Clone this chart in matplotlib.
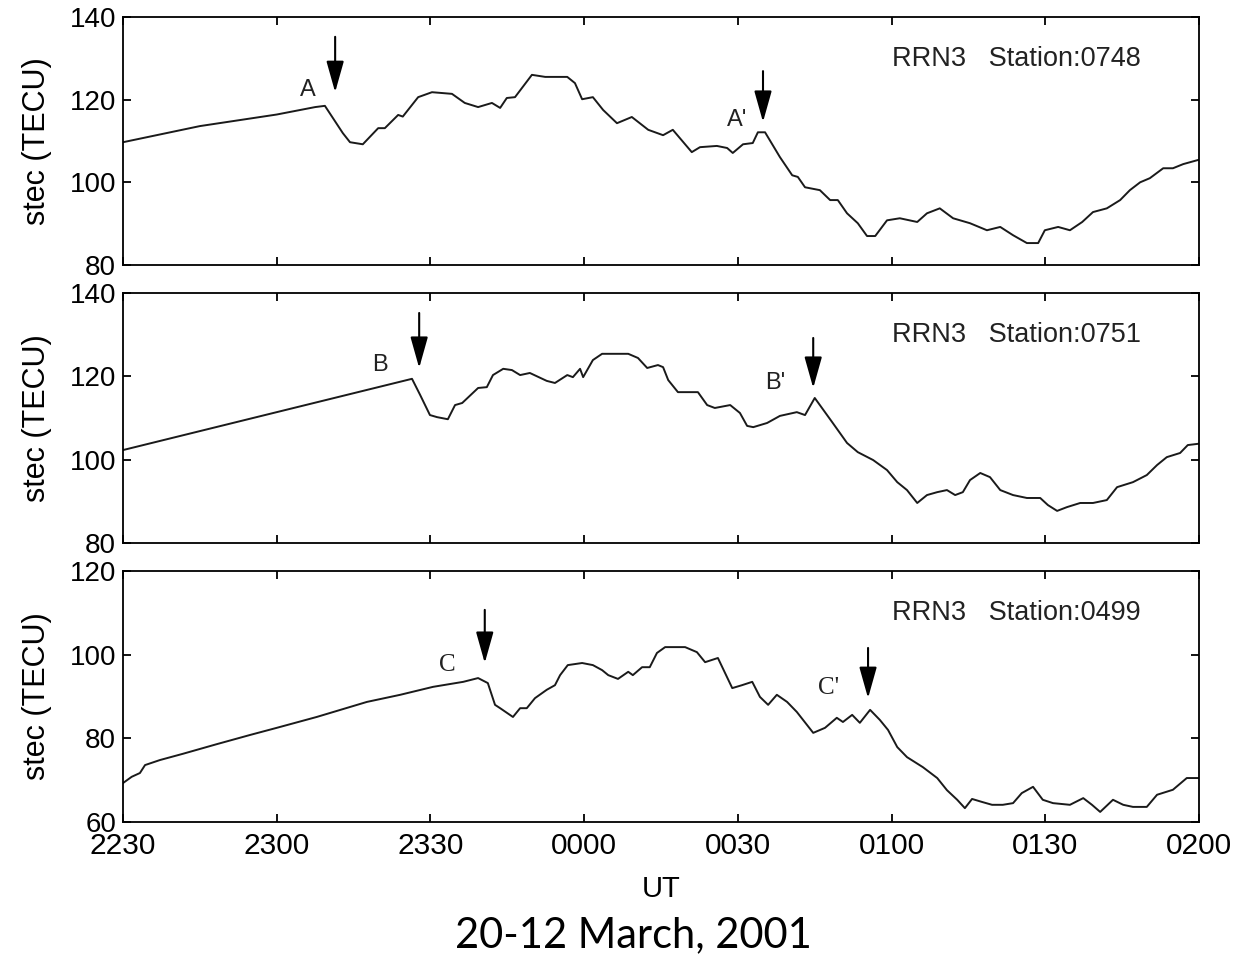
import matplotlib.pyplot as plt

plt.rcParams["font.family"] = ["Liberation Sans", "DejaVu Sans"]

# minutes after 22:30 UT
ut_ticks = [0, 30, 60, 90, 120, 150, 180, 210]
ut_labels = ["2230", "2300", "2330", "0000", "0030", "0100", "0130", "0200"]

t_0748 = [0, 15.0, 30.0, 37.5, 39.4, 42.9, 44.3, 46.8, 47.8, 49.8, 51.1, 53.7, 54.6,
          57.6, 60.3, 64.2, 66.7, 69.3, 72.0, 73.6, 74.9, 76.5, 79.8, 82.4, 86.7,
          88.2, 89.6, 91.7, 93.7, 96.4, 99.3, 102.5, 105.4, 107.3, 111.0, 112.6,
          115.9, 117.9, 119.0, 121.0, 122.9, 123.9, 125.3, 128.2, 130.6, 131.7,
          133.1, 136.0, 138.0, 139.5, 141.3, 143.4, 145.2, 146.8, 149.1, 151.6,
          155.0, 156.9, 159.4, 162.0, 165.3, 168.6, 171.2, 173.7, 176.4, 178.6,
          179.9, 182.5, 184.8, 187.2, 189.3, 192.0, 194.6, 196.5, 198.5, 200.4,
          203.0, 204.9, 206.9, 209.8]
stec_0748 = [109.7, 113.6, 116.4, 118.2, 118.5, 111.9, 109.7, 109.2, 110.5, 113.1,
             113.1, 116.3, 115.9, 120.6, 121.8, 121.4, 119.2, 118.2, 119.2, 118.0,
             120.4, 120.6, 126.0, 125.5, 125.5, 124.0, 120.1, 120.6, 117.5, 114.3,
             115.8, 112.7, 111.4, 112.7, 107.3, 108.5, 108.8, 108.3, 107.1, 109.2,
             109.5, 112.1, 112.1, 106.1, 101.7, 101.3, 98.8, 98.1, 95.7, 95.7, 92.5,
             90.1, 87.0, 87.0, 90.8, 91.3, 90.4, 92.5, 93.7, 91.3, 90.1, 88.4, 89.2,
             87.2, 85.3, 85.3, 88.4, 89.2, 88.4, 90.4, 92.8, 93.7, 95.7, 98.1, 100.0,
             101.0, 103.4, 103.4, 104.4, 105.4]

t_0751 = [0, 30.0, 56.4, 58.0, 59.9, 61.3, 63.4, 64.8, 66.2, 69.3, 71.0, 72.2, 74.2,
          75.9, 77.5, 79.4, 82.7, 84.3, 86.7, 87.8, 89.2, 89.8, 91.7, 93.5, 98.6,
          100.5, 102.3, 104.4, 105.4, 106.4, 108.3, 112.2, 114.0, 115.5, 118.5,
          120.4, 121.8, 123.0, 125.7, 128.2, 131.5, 133.1, 135.0, 138.4, 141.3,
          143.4, 146.4, 149.1, 151.1, 153.0, 155.0, 156.9, 158.9, 160.8, 162.4,
          163.9, 165.3, 167.3, 169.2, 171.2, 173.7, 176.4, 179.0, 180.5, 182.3,
          184.2, 186.8, 189.3, 192.0, 194.0, 197.1, 199.8, 201.8, 203.7, 206.3,
          207.8, 209.8]
stec_0751 = [102.3, 111.4, 119.4, 115.5, 110.7, 110.2, 109.7, 113.1, 113.6, 117.2,
             117.4, 120.3, 121.8, 121.5, 120.3, 120.8, 118.9, 118.4, 120.3, 119.8,
             121.8, 119.8, 123.9, 125.4, 125.4, 124.4, 122.0, 122.7, 122.2, 119.1,
             116.2, 116.2, 113.1, 112.4, 113.1, 111.2, 108.1, 107.8, 108.8, 110.5,
             111.4, 110.7, 114.8, 109.0, 104.0, 101.8, 99.9, 97.5, 94.6, 92.7, 89.6,
             91.5, 92.2, 92.7, 91.5, 92.2, 95.1, 96.8, 95.8, 92.7, 91.5, 90.8, 90.8,
             89.1, 87.7, 88.6, 89.6, 89.6, 90.3, 93.4, 94.6, 96.3, 98.7, 100.6,
             101.6, 103.5, 103.8]

t_0499 = [0, 1.7, 3.3, 4.3, 7.2, 11.7, 18.3, 24.8, 30.0, 37.8, 47.6, 54.1, 60.5, 66.4,
          69.3, 71.2, 72.6, 73.6, 76.1, 77.5, 78.8, 80.4, 82.7, 84.3, 85.3, 86.8,
          89.6, 91.7, 93.5, 94.7, 96.6, 98.6, 99.5, 101.3, 102.8, 104.2, 105.8,
          109.7, 112.0, 113.6, 116.1, 117.5, 118.9, 120.8, 122.8, 124.3, 125.9,
          127.6, 129.6, 131.5, 134.7, 137.0, 139.3, 140.5, 142.3, 143.8, 145.8,
          147.7, 149.3, 151.1, 153.0, 156.1, 158.9, 160.8, 162.8, 164.3, 165.7,
          167.6, 169.6, 171.7, 173.7, 175.4, 177.6, 179.5, 181.5, 184.8, 187.4,
          189.1, 190.7, 193.2, 195.2, 197.1, 199.8, 201.8, 204.9, 207.6, 209.8]
stec_0499 = [69.3, 70.8, 71.7, 73.6, 74.8, 76.3, 78.6, 80.8, 82.5, 85.1, 88.7, 90.4,
             92.3, 93.5, 94.4, 93.2, 88.0, 87.2, 85.1, 87.2, 87.2, 89.6, 91.6, 92.7,
             95.1, 97.5, 98.0, 97.5, 96.3, 95.1, 94.2, 95.9, 95.1, 97.0, 97.0, 100.4,
             101.8, 101.8, 100.6, 98.2, 99.2, 95.6, 92.0, 92.7, 93.5, 89.9, 88.0,
             90.4, 88.7, 86.3, 81.3, 82.5, 84.9, 83.9, 85.6, 83.7, 86.8, 84.4, 82.0,
             77.9, 75.5, 73.1, 70.5, 67.6, 65.3, 63.3, 65.5, 64.8, 64.1, 64.1, 64.5,
             66.9, 68.4, 65.3, 64.5, 64.1, 65.7, 64.1, 62.4, 65.3, 64.1, 63.6, 63.6,
             66.5, 67.7, 70.5, 70.5]

stations = ["0748", "0751", "0499"]
times = [t_0748, t_0751, t_0499]
values = [stec_0748, stec_0751, stec_0499]
y_ranges = [(80, 140), (80, 140), (60, 120)]
y_ticks = [[80, 100, 120, 140], [80, 100, 120, 140], [60, 80, 100, 120]]

# arrows: (time, tail value, tip value), labels: (text, time, value)
arrows = [[(41.4, 135.2, 121.8), (124.9, 126.9, 114.6)],
          [(57.8, 135.2, 122.0), (134.7, 129.2, 117.2)],
          [(70.6, 110.7, 98.0), (145.4, 101.6, 89.6)]]
marks = [[("A", 36.1, 122.3), ("A'", 119.8, 115.1)],
         [("B", 50.2, 122.7), ("B'", 127.2, 118.4)],
         [("C", 63.2, 97.5), ("C'", 137.6, 92.0)]]

fig = plt.figure(figsize=(12.35, 9.59), dpi=100)
boxes = [[0.0996, 0.7237, 0.8713, 0.2586],
         [0.0996, 0.4338, 0.8713, 0.2607],
         [0.0996, 0.1429, 0.8713, 0.2617]]

for i in range(3):
    ax = fig.add_axes(boxes[i])
    ax.plot(times[i], values[i], "-", color="#1a1a1a", linewidth=1.4)
    ax.set_xlim(0, 210)
    ax.set_ylim(*y_ranges[i])
    ax.set_xticks(ut_ticks)
    ax.set_yticks(y_ticks[i])
    ax.tick_params(direction="in", top=True, right=True, length=6, width=1.3,
                   labelsize=20, pad=5)
    ax.tick_params(axis="x", labelsize=21.5, pad=7)
    for s in ax.spines.values():
        s.set_linewidth(1.3)
    if i == 2:
        ax.set_xticklabels(ut_labels)
        ax.set_xlabel("UT", fontsize=21, labelpad=11)
    else:
        ax.set_xticklabels([])
    ax.set_ylabel("stec (TECU)", fontsize=22)
    ax.yaxis.set_label_coords(-0.066, 0.5)

    ax.text(0.715, 0.832, "RRN3   Station:" + stations[i], transform=ax.transAxes,
            fontsize=19.5, va="center", ha="left", color="#222222")

    for (tm, tail, tip) in arrows[i]:
        ax.annotate("", xy=(tm, tip), xytext=(tm, tail),
                    arrowprops=dict(arrowstyle="-|>,head_length=1.6,head_width=0.45",
                                    color="black", lw=1.5, shrinkA=0, shrinkB=0,
                                    mutation_scale=12))
    for (txt, tm, val) in marks[i]:
        if i == 2:
            ax.text(tm, val, txt, fontsize=18, ha="center", va="center",
                    family=["Liberation Serif"], color="#222222")
        else:
            ax.text(tm, val, txt, fontsize=17, ha="center", va="center",
                    color="#222222")

fig.text(633 / 1235, 1 - 935 / 959, "20-12 March, 2001", fontsize=30,
         ha="center", va="center", family=["Lato", "DejaVu Sans"])

fig.savefig("out.png", dpi=100)
